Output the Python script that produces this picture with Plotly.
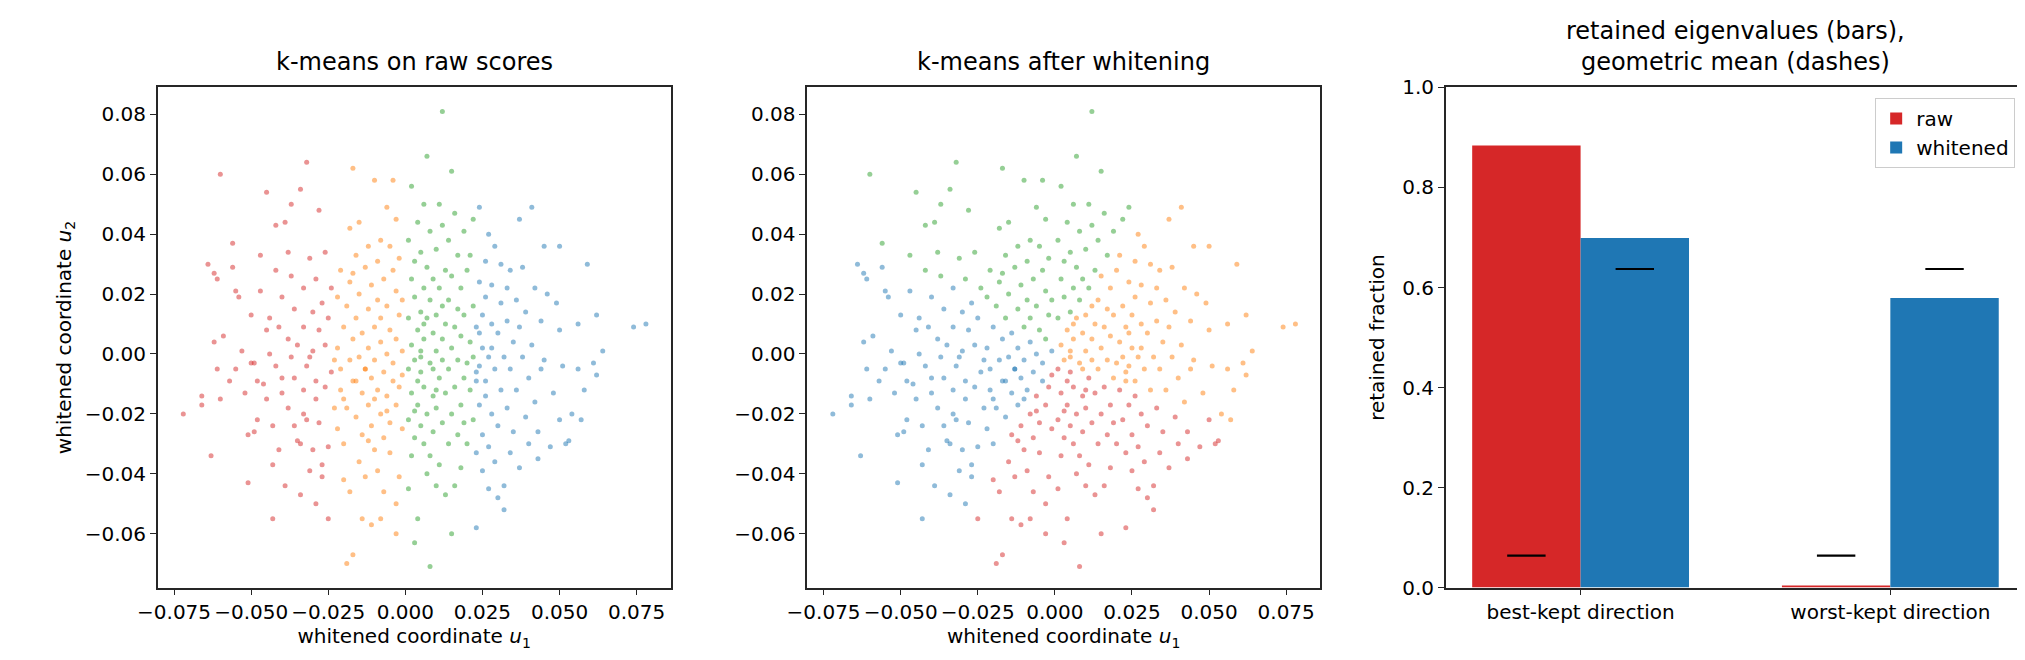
import plotly.graph_objects as go

# point cloud (units of 1e-3)
pts = [(-72,-20),(-66,-14),(-66,-17),(-64,30),(-63,-34),(-62,4),(-62,27),(-61,25),(-61,-5),(-60,60),(-60,-15),(-59,6),(-57,-9),(-56,37),(-56,29),(-55,21),(-55,-5),(-54,19),(-53,1),(-52,-13),(-51,-43),(-50,-3),(-50,13),(-49,-26),(-49,-3),(-48,-22),(-47,33),(-47,21),(-46,-10),(-45,54),(-45,8),(-45,-15),(-44,0),(-43,-37),(-43,-55),(-43,-24),(-42,-4),(-42,28),(-41,9),(-41,-32),(-40,-13),(-40,19),(-39,44),(-39,-44),(-38,-18),(-38,5),(-37,50),(-37,26),(-37,-1),(-36,-8),(-36,15),(-35,-29),(-35,3),(-34,-47),(-34,-30),(-34,55),(-33,-12),(-33,22),(-33,9),(-32,64),(-32,-22),(-32,-4),(-31,-39),(-31,32),(-30,14),(-30,1),(-29,-15),(-29,-9),(-29,25),(-28,48),(-28,-23),(-28,8),(-27,-41),(-27,-37),(-27,17),(-26,-11),(-26,34),(-26,3),(-25,-55),(-25,-31),(-25,12),(-24,-6),(-24,22),(-23,-18),(-23,-2),(-31,-1),(-40,-8),(-44,12),(-36,-24),(-30,-32),(-48,-9),(-38,34),(-42,43),(-51,-27),(-29,-50),(-33,-20),
(-22,19),(-22,-25),(-22,2),(-21,-12),(-21,28),(-21,-5),(-20,9),(-20,-42),(-20,-30),(-19,16),(-19,-18),(-18,42),(-18,-2),(-18,24),(-18,-46),(-17,62),(-17,5),(-17,-9),(-17,-67),(-16,33),(-16,-21),(-16,12),(-15,-36),(-15,44),(-15,-1),(-15,20),(-14,-13),(-14,-27),(-14,7),(-14,-55),(-13,29),(-13,-5),(-13,-41),(-12,15),(-12,-17),(-12,36),(-12,2),(-11,-24),(-11,-8),(-11,23),(-11,-57),(-10,58),(-10,9),(-10,-32),(-10,-2),(-9,18),(-9,-12),(-9,-39),(-9,31),(-8,-20),(-8,4),(-8,-55),(-8,12),(-7,-6),(-7,25),(-7,-28),(-7,-46),(-6,49),(-6,-14),(-6,0),(-6,16),(-5,-23),(-5,8),(-5,36),(-5,-33),(-4,-9),(-4,28),(-4,-3),(-4,58),(-3,-50),(-3,-17),(-3,21),(-3,5),(-3,-60),(-2,-41),(-2,13),(-2,-11),(-2,32),(-1,-25),(-1,1),(-1,18),(-1,-7),(-19,-70),(-13,-5),(-16,-9),(-20,-15),(-6,-19),(-10,-15),(-12,-29),(-17,27),(-8,38),(-3,45),
(1,38),(1,-5),(1,12),(1,-22),(1,-45),(2,25),(2,-13),(2,3),(2,-34),(2,56),(3,-28),(3,19),(3,-2),(3,31),(3,-63),(4,8),(4,-17),(4,44),(4,-9),(4,-55),(5,14),(5,-24),(5,1),(5,34),(5,-6),(6,50),(6,-30),(6,22),(6,-11),(6,5),(7,66),(7,-40),(7,-20),(7,29),(7,12),(8,-3),(8,-34),(8,18),(8,-71),(8,41),(9,-14),(9,7),(9,-26),(9,25),(9,-5),(10,35),(10,-44),(10,1),(10,-18),(10,13),(11,50),(11,-8),(11,-37),(11,22),(12,-23),(12,5),(12,81),(12,-2),(12,43),(13,-13),(13,28),(13,-47),(13,10),(14,-30),(14,-5),(14,38),(14,18),(15,61),(15,-60),(15,-20),(15,2),(15,26),(16,-11),(16,9),(16,-44),(16,47),(17,-27),(17,15),(17,-2),(17,33),(18,-17),(18,6),(18,-38),(18,22),(19,-8),(19,-23),(19,41),(19,13),(20,-3),(20,28),(20,-30),(5,-1),(10,-12),(6,10),(12,16),(3,-19),
(21,-12),(21,33),(21,4),(22,-22),(22,45),(22,-1),(22,16),(23,-33),(23,-9),(23,9),(23,-58),(24,24),(24,-4),(24,49),(24,-17),(25,13),(25,-27),(25,2),(25,-39),(26,31),(26,-9),(26,19),(27,-31),(27,-1),(27,40),(27,-45),(28,10),(28,-20),(28,23),(29,-5),(29,-36),(29,36),(30,-24),(30,7),(30,-48),(31,17),(31,-12),(31,30),(32,-1),(32,-44),(32,-52),(33,22),(33,-18),(33,11),(34,-33),(34,-5),(34,28),(35,4),(35,-26),(36,18),(36,-12),(37,45),(37,-38),(37,9),(38,-1),(38,29),(39,-21),(39,14),(40,-8),(40,-30),(41,49),(41,3),(42,22),(42,-16),(43,-35),(43,-26),(44,11),(44,-5),(45,36),(45,-2),(46,20),(47,-31),(48,-13),(49,17),(50,8),(50,36),(50,-22),(51,-4),(52,-30),(53,-29),(54,-20),(56,-5),(56,10),(57,-22),(58,-12),(59,30),(61,-3),(62,-7),(62,13),(64,1),(74,9),(78,10),(23,-6),(26,-14),(28,2),(24,7)]
u1 = [p[0] / 1000 for p in pts]
u2 = [p[1] / 1000 for p in pts]

colors = ["#d62728", "#ff7f0e", "#2ca02c", "#1f77b4"]
# approximate cluster centres seen in each panel
centres_raw = [(-0.037, 0.0), (-0.011, 0.0), (0.010, 0.0), (0.035, 0.0)]
centres_white = [(0.010, -0.027), (0.024, 0.010), (-0.005, 0.027), (-0.025, -0.005)]

def assign(cs):
    out = []
    for x, y in zip(u1, u2):
        d = [(x - cx) ** 2 + (y - cy) ** 2 for cx, cy in cs]
        out.append(d.index(min(d)))
    return out

lab_raw = assign(centres_raw)
lab_white = assign(centres_white)

categories = ["best-kept direction", "worst-kept direction"]
raw_vals = [0.884, 0.004]
white_vals = [0.699, 0.579]
raw_gm = 0.064
white_gm = 0.637

fig = go.Figure()
for lab, xa, ya in [(lab_raw, "x", "y"), (lab_white, "x2", "y2")]:
    for k in range(4):
        xs = [x for x, l in zip(u1, lab) if l == k]
        ys = [y for y, l in zip(u2, lab) if l == k]
        fig.add_trace(go.Scatter(x=xs, y=ys, mode="markers", xaxis=xa, yaxis=ya,
                                 marker=dict(color=colors[k], size=5, opacity=0.5, line=dict(width=0)),
                                 showlegend=False, hoverinfo="skip"))

w = 0.35
fig.add_trace(go.Bar(x=[0, 1], y=raw_vals, width=w, offset=-w, marker=dict(color="#d62728", line=dict(width=0)),
                     name="raw", xaxis="x3", yaxis="y3"))
fig.add_trace(go.Bar(x=[0, 1], y=white_vals, width=w, offset=0, marker=dict(color="#1f77b4", line=dict(width=0)),
                     name="whitened", xaxis="x3", yaxis="y3"))
dx, dy = [], []
for i in range(2):
    for c, g in [(i - w / 2, raw_gm), (i + w / 2, white_gm)]:
        dx += [c - 0.062, c + 0.062, None]
        dy += [g, g, None]
fig.add_trace(go.Scatter(x=dx, y=dy, mode="lines", line=dict(color="black", width=2.2),
                         xaxis="x3", yaxis="y3", showlegend=False, hoverinfo="skip"))

ax = dict(showline=True, mirror=True, linecolor="#262626", linewidth=1.5, ticks="outside",
          ticklen=6, tickcolor="#262626", showgrid=False, zeroline=False, tickangle=0,
          tickfont=dict(size=20, color="black"))
tf = dict(size=20, color="black")
xticks = [-0.075, -0.05, -0.025, 0, 0.025, 0.05, 0.075]
xtext = ["−0.075", "−0.050", "−0.025", "0.000", "0.025", "0.050", "0.075"]
yticks = [-0.06, -0.04, -0.02, 0, 0.02, 0.04, 0.06, 0.08]
ytext = ["−0.06", "−0.04", "−0.02", "0.00", "0.02", "0.04", "0.06", "0.08"]
ydom = [1 - 589 / 660, 1 - 70 / 660]
xlab = dict(text="whitened coordinate <i>u</i><sub>1</sub>", font=tf, standoff=4)
ty = 1 - 60 / 660

fig.update_layout(
    width=2025, height=660, paper_bgcolor="white", plot_bgcolor="white",
    font=dict(family="DejaVu Sans", color="black"),
    margin=dict(l=0, r=0, t=0, b=0), barmode="overlay",
    xaxis=dict(ax, domain=[131 / 2025, 649 / 2025], range=[-0.0803, 0.086], tickvals=xticks, ticktext=xtext, title=xlab),
    yaxis=dict(ax, domain=ydom, range=[-0.078, 0.089], tickvals=yticks, ticktext=ytext,
               title=dict(text="whitened coordinate <i>u</i><sub>2</sub>", font=tf, standoff=8)),
    xaxis2=dict(ax, domain=[787 / 2025, 1305 / 2025], range=[-0.0803, 0.086], tickvals=xticks, ticktext=xtext,
                title=xlab, anchor="y2"),
    yaxis2=dict(ax, domain=ydom, range=[-0.078, 0.089], tickvals=yticks, ticktext=ytext, anchor="x2"),
    xaxis3=dict(ax, domain=[1432 / 2025, 2017 / 2025], range=[-0.435, 1.435], tickvals=[0, 1],
                ticktext=categories, anchor="y3"),
    yaxis3=dict(ax, domain=ydom, range=[0, 1.0], tickvals=[0, 0.2, 0.4, 0.6, 0.8, 1.0],
                ticktext=["0.0", "0.2", "0.4", "0.6", "0.8", "1.0"], anchor="x3",
                title=dict(text="retained fraction", font=tf, standoff=12)),
    legend=dict(x=2007 / 2025, y=1 - 81 / 660, xanchor="right", yanchor="top", bordercolor="#cccccc", borderwidth=1,
                font=dict(size=20), bgcolor="rgba(255,255,255,0.8)"),
    annotations=[
        dict(text="k-means on raw scores", x=390 / 2025, y=ty, xref="paper", yref="paper",
             showarrow=False, xanchor="center", yanchor="bottom", font=dict(size=24)),
        dict(text="k-means after whitening", x=1046 / 2025, y=ty, xref="paper", yref="paper",
             showarrow=False, xanchor="center", yanchor="bottom", font=dict(size=24)),
        dict(text="retained eigenvalues (bars),<br>geometric mean (dashes)", x=1725 / 2025, y=ty,
             xref="paper", yref="paper", showarrow=False, xanchor="center", yanchor="bottom", font=dict(size=24)),
    ],
)
fig.write_html("out.html")
